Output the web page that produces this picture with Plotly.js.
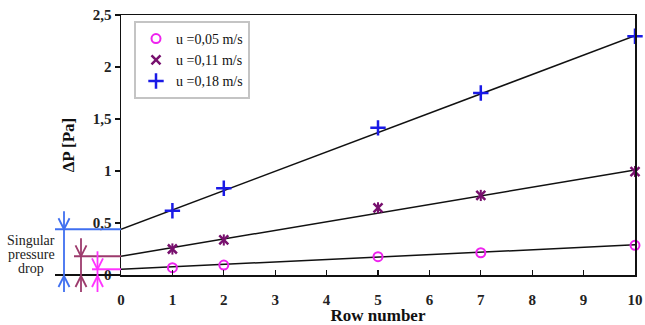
<!DOCTYPE html>
<html>
<head>
<meta charset="utf-8">
<script src="https://cdn.plot.ly/plotly-3.0.1.min.js"></script>
<style>html,body{margin:0;padding:0;background:#fff;}#chart{width:645px;height:325px;}</style>
</head>
<body>
<div id="chart"></div>
<script>
// Data
const rows = [1, 2, 5, 7, 10];
const dp005 = [0.07, 0.096, 0.176, 0.214, 0.285];
const dp011 = [0.25, 0.337, 0.645, 0.765, 0.995];
const dp018 = [0.618, 0.834, 1.415, 1.75, 2.295];
const fitRows = [0, 10];
const fit005 = [0.055, 0.29];
const fit011 = [0.18, 1.01];
const fit018 = [0.44, 2.30];
const seriesNames = ['u =0,05 m/s', 'u =0,11 m/s', 'u =0,18 m/s'];
const xTicks = [0, 1, 2, 3, 4, 5, 6, 7, 8, 9, 10];
const yTicks = [0, 0.5, 1, 1.5, 2, 2.5];
const sideText = ['Singular', 'pressure', 'drop'];

const SERIF = 'Liberation Serif';
const W = 645, H = 325;
const M = {l: 121, r: 10, t: 15, b: 50};
const PW = W - M.l - M.r, PH = H - M.t - M.b;
const YMAX = 2.5;
const px = x => (x - M.l) / PW;          // pixel x -> paper
const py = y => (H - M.b - y) / PH;      // pixel y -> paper
const pixOf = v => H - M.b - v / YMAX * PH; // data y -> pixel y

const fitLine = (y) => ({
  x: fitRows, y: y, mode: 'lines', showlegend: false, hoverinfo: 'skip',
  line: {color: '#111', width: 1.5}
});

const traces = [
  fitLine(fit005), fitLine(fit011), fitLine(fit018),
  {x: rows, y: dp005, name: seriesNames[0], mode: 'markers', cliponaxis: false,
   marker: {symbol: 'circle-open', size: 9, color: '#ee22ee', line: {width: 2, color: '#ee22ee'}}},
  {x: rows, y: dp011, name: seriesNames[1], mode: 'markers', cliponaxis: false,
   marker: {symbol: 'x-thin-open', size: 9, color: '#78106e', line: {width: 2.5, color: '#78106e'}}},
  {x: rows, y: dp018, name: seriesNames[2], mode: 'markers', cliponaxis: false,
   marker: {symbol: 'cross-thin-open', size: 11, color: '#1a1ae6', line: {width: 2.5, color: '#1a1ae6'}}},
  {x: rows, y: dp011, showlegend: false, mode: 'markers', cliponaxis: false, hoverinfo: 'skip',
   marker: {symbol: 'line-ns-open', size: 8, color: '#78106e', line: {width: 2, color: '#78106e'}}}
];

const shapes = [];
function seg(x0, y0, x1, y1, color, w) {
  shapes.push({type: 'line', xref: 'paper', yref: 'paper', x0: px(x0), y0: py(y0), x1: px(x1), y1: py(y1),
    line: {color: color, width: w || 2}});
}
function marker(xv, yTopLine, color, left) {
  const yl = pixOf(yTopLine), y0 = pixOf(0);
  seg(left, yl, M.l, yl, color, 2);               // horizontal level line
  seg(xv, yl - 18, xv, y0 + 17, color, 1.8);      // vertical line
  seg(xv - 5.5, yl - 11, xv, yl, color, 1.8);     // chevron down onto level
  seg(xv + 5.5, yl - 11, xv, yl, color, 1.8);
  seg(xv - 5.5, y0 + 12, xv, y0 + 1, color, 1.8); // chevron up onto zero
  seg(xv + 5.5, y0 + 12, xv, y0 + 1, color, 1.8);
}
seg(55, pixOf(0), M.l, pixOf(0), '#111', 2);
marker(64, fit018[0], '#3f6ff0', 55);
marker(81, fit011[0], '#9c3a6c', 74);
marker(97.5, fit005[0], '#ff33ff', 92);

const annotations = sideText.map((t, i) => ({
  text: t, xref: 'paper', yref: 'paper', x: px(31), y: py(240 + i * 14),
  xanchor: 'center', yanchor: 'middle', showarrow: false,
  font: {family: SERIF, size: 14, color: '#222'}
}));

const layout = {
  width: W, height: H, margin: M,
  paper_bgcolor: '#fff', plot_bgcolor: '#fff',
  separators: ',.',
  showlegend: true,
  font: {family: SERIF, color: '#111'},
  xaxis: {
    range: [0, 10], tickvals: xTicks, ticks: 'inside', ticklen: 5, tickwidth: 1.2, tickcolor: '#111',
    showline: true, linewidth: 1.5, linecolor: '#111', mirror: true, showgrid: false, zeroline: false,
    ticklabelstandoff: 10, ticklabeloverflow: 'allow',
    tickfont: {family: SERIF, size: 15, weight: 'bold', color: '#222'},
    title: {text: 'Row number', font: {family: SERIF, size: 17, weight: 'bold', color: '#111'}, standoff: 2}
  },
  yaxis: {
    range: [0, 2.5], tickvals: yTicks, ticks: 'outside', ticklen: 5, tickwidth: 1.2, tickcolor: '#111',
    showline: true, linewidth: 1.5, linecolor: '#111', mirror: true, showgrid: false, zeroline: false,
    tickfont: {family: SERIF, size: 15, weight: 'bold', color: '#222'},
    title: {text: 'ΔP [Pa]', font: {family: SERIF, size: 17, weight: 'bold', color: '#111'}, standoff: 14}
  },
  legend: {
    x: px(134), y: py(21), xanchor: 'left', yanchor: 'top',
    bgcolor: '#fff', bordercolor: '#c4c4c4', borderwidth: 2,
    font: {family: SERIF, size: 14, color: '#111'}, itemwidth: 30, tracegroupgap: 0,
    traceorder: 'normal'
  },
  shapes: shapes,
  annotations: annotations
};
Plotly.newPlot('chart', traces, layout, {displayModeBar: false, staticPlot: true});
</script>
</body>
</html>
